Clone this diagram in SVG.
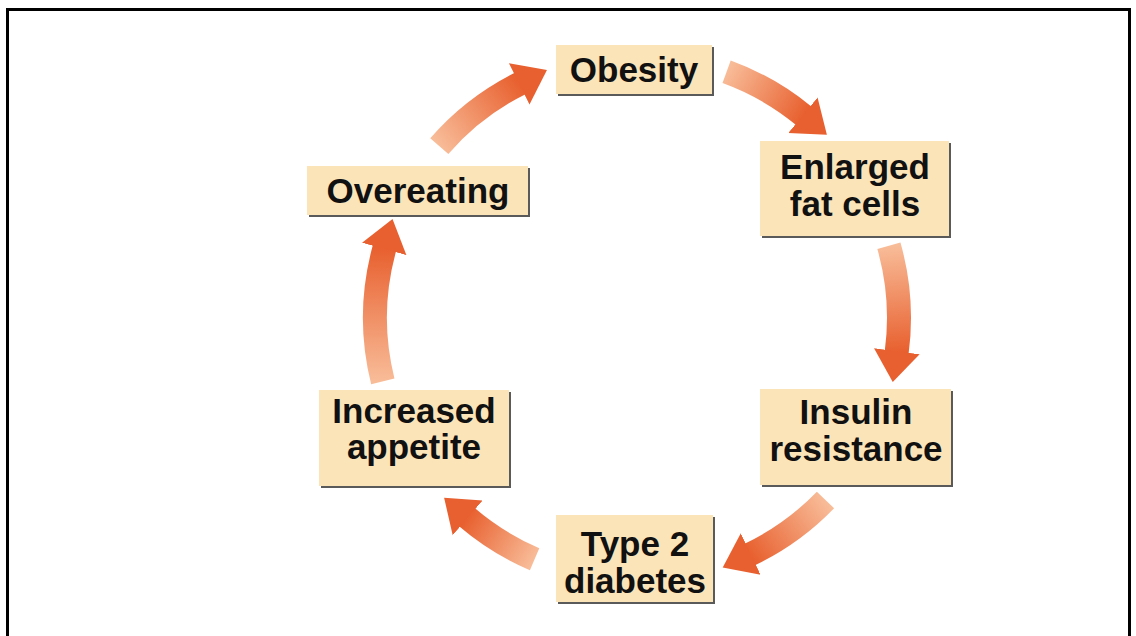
<svg xmlns="http://www.w3.org/2000/svg" width="1136" height="636" viewBox="0 0 1136 636">
<style>
.box{fill:#FCE4B9}
.shadow{fill:#5a5a5a}
.lbl{font-family:"Liberation Sans",Arial,sans-serif;font-weight:bold;font-size:35px;fill:#111;text-anchor:middle}
.arc{fill:none;stroke-width:24;stroke-linecap:butt;marker-end:url(#head)}
</style>
<defs>
<marker id="head" markerUnits="userSpaceOnUse" viewBox="0 -25 32 50" refX="1" refY="0" markerWidth="32" markerHeight="50" orient="auto">
<path d="M0,-23 L31,0 L0,23 Z" fill="#E8602F"/>
</marker>
<linearGradient id="g1" gradientUnits="userSpaceOnUse" x1="439.3" y1="146.1" x2="520.1" y2="83.5"><stop offset="0" stop-color="#F8BC98"/><stop offset="1" stop-color="#E8602F"/></linearGradient>
<linearGradient id="g2" gradientUnits="userSpaceOnUse" x1="726.6" y1="71.8" x2="803.7" y2="115.8"><stop offset="0" stop-color="#F8BC98"/><stop offset="1" stop-color="#E8602F"/></linearGradient>
<linearGradient id="g3" gradientUnits="userSpaceOnUse" x1="888.9" y1="245.8" x2="896.7" y2="352.2"><stop offset="0" stop-color="#F8BC98"/><stop offset="1" stop-color="#E8602F"/></linearGradient>
<linearGradient id="g4" gradientUnits="userSpaceOnUse" x1="825.5" y1="500" x2="749.8" y2="554.5"><stop offset="0" stop-color="#F8BC98"/><stop offset="1" stop-color="#E8602F"/></linearGradient>
<linearGradient id="g5" gradientUnits="userSpaceOnUse" x1="534.6" y1="559.2" x2="466.9" y2="517.2"><stop offset="0" stop-color="#F8BC98"/><stop offset="1" stop-color="#E8602F"/></linearGradient>
<linearGradient id="g6" gradientUnits="userSpaceOnUse" x1="382.8" y1="381.4" x2="384.5" y2="248"><stop offset="0" stop-color="#F8BC98"/><stop offset="1" stop-color="#E8602F"/></linearGradient>
</defs>
<rect width="1136" height="636" fill="#fff"/>
<path d="M7.5 636 V9.5 H1129.5 V636" fill="none" stroke="#000" stroke-width="3"/>
<g id="connectors">
<path class="arc" stroke="url(#g1)" d="M439.3 146.1 A262 262 0 0 1 520.1 83.5"/>
<path class="arc" stroke="url(#g2)" d="M726.6 71.8 A262 262 0 0 1 803.7 115.8"/>
<path class="arc" stroke="url(#g3)" d="M888.9 245.8 A262 262 0 0 1 896.7 352.2"/>
<path class="arc" stroke="url(#g4)" d="M825.5 500 A262 262 0 0 1 749.8 554.5"/>
<path class="arc" stroke="url(#g5)" d="M534.6 559.2 A262 262 0 0 1 466.9 517.2"/>
<path class="arc" stroke="url(#g6)" d="M382.8 381.4 A262 262 0 0 1 384.5 248"/>
</g>
<g id="obesity">
<rect class="shadow" x="558" y="47" width="156" height="49"/>
<rect class="box" x="556" y="45" width="156" height="49"/>
<text class="lbl" x="634" y="82">Obesity</text>
</g>
<g id="enlarged-fat-cells">
<rect class="shadow" x="762" y="143" width="189" height="95"/>
<rect class="box" x="760" y="141" width="189" height="95"/>
<text class="lbl" x="855" y="179">Enlarged</text>
<text class="lbl" x="855" y="216">fat cells</text>
</g>
<g id="insulin-resistance">
<rect class="shadow" x="762" y="391" width="191" height="96"/>
<rect class="box" x="760" y="389" width="191" height="96"/>
<text class="lbl" x="856" y="424">Insulin</text>
<text class="lbl" x="856" y="461">resistance</text>
</g>
<g id="type-2-diabetes">
<rect class="shadow" x="558" y="517" width="157" height="87"/>
<rect class="box" x="556" y="515" width="157" height="87"/>
<text class="lbl" x="635" y="556">Type 2</text>
<text class="lbl" x="635" y="593">diabetes</text>
</g>
<g id="increased-appetite">
<rect class="shadow" x="321" y="392" width="190" height="96"/>
<rect class="box" x="319" y="390" width="190" height="96"/>
<text class="lbl" x="414" y="423">Increased</text>
<text class="lbl" x="414" y="459">appetite</text>
</g>
<g id="overeating">
<rect class="shadow" x="309" y="168" width="221" height="49"/>
<rect class="box" x="307" y="166" width="221" height="49"/>
<text class="lbl" x="418" y="203">Overeating</text>
</g>
</svg>
